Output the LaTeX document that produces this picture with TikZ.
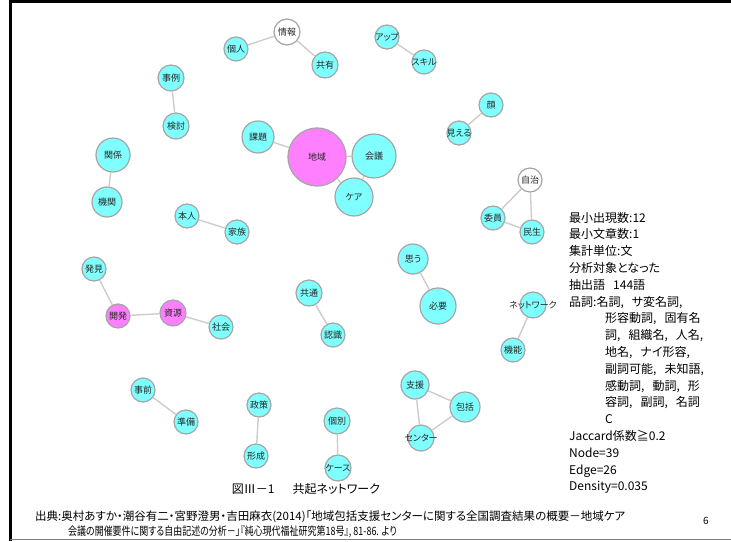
\documentclass[tikz,border=0pt]{standalone}
\usepackage{graphicx}
\usepackage{fontspec}
\setmainfont{Noto Sans CJK JP}[RawFeature=+palt]
\definecolor{nodecyan}{RGB}{128,255,255}
\definecolor{nodemag}{RGB}{255,128,255}
\definecolor{nodeborder}{RGB}{165,165,165}
\definecolor{edgegray}{RGB}{205,205,205}
\newcommand{\wordlbl}[1]{\makebox[0pt]{#1}}
\newcommand{\jcomma}{,\hspace{8pt}}
\tikzset{
  word/.style={circle, draw=nodeborder, line width=1.2pt, inner sep=0pt, minimum size=#1, text=black!85, font=\fontsize{9}{9}\selectfont},
  cyw/.style={word=#1, fill=nodecyan},
  mgw/.style={word=#1, fill=nodemag},
  whw/.style={word=#1, fill=white},
  link/.style={draw=edgegray, line width=1.4pt},
  info/.style={anchor=west, inner sep=0pt, text height=10pt, text depth=2pt, font=\fontsize{12}{12}\selectfont},
  capt/.style={anchor=west, inner sep=0pt, text height=9pt, text depth=2pt, font=\fontsize{11.5}{11.5}\selectfont},
}
\begin{document}
\begin{tikzpicture}[x=1pt,y=-1pt]
\useasboundingbox (0,0) rectangle (731,541);
\fill[white] (0,0) rectangle (731,541);
% frame
\draw[line width=2.5pt] (9,1.25) -- (731,1.25);
\draw[line width=2.5pt] (10.25,0) -- (10.25,541);
\draw[gray, line width=1.5pt] (10,539.5) -- (731,539.5);

% word nodes
\node[whw=26pt] (joho) at (287,32) {\wordlbl{情報}};
\node[cyw=24pt] (kojin) at (236,49) {\wordlbl{個人}};
\node[cyw=26pt] (kyoyu) at (325,65) {\wordlbl{共有}};
\node[cyw=24pt] (up) at (387,37) {\wordlbl{アップ}};
\node[cyw=24pt] (skill) at (424,62) {\wordlbl{スキル}};
\node[cyw=26pt] (jirei) at (171,78) {\wordlbl{事例}};
\node[cyw=26pt] (kento) at (176,126) {\wordlbl{検討}};
\node[cyw=24pt] (kao) at (491,105) {\wordlbl{顔}};
\node[cyw=24pt] (mieru) at (459,133) {\wordlbl{見える}};
\node[cyw=32pt] (kadai) at (258,137) {\wordlbl{課題}};
\node[mgw=58pt] (chiiki) at (317,157) {\wordlbl{地域}};
\node[cyw=44pt] (kaigi) at (374,156) {\wordlbl{会議}};
\node[cyw=38pt] (care) at (354,197) {\wordlbl{ケア}};
\node[cyw=34pt] (kankei) at (113,155) {\wordlbl{関係}};
\node[cyw=30pt] (kikan) at (107,202) {\wordlbl{機関}};
\node[whw=24pt] (jichi) at (530,180) {\wordlbl{自治}};
\node[cyw=24pt] (iin) at (493,218) {\wordlbl{委員}};
\node[cyw=24pt] (minsei) at (532,232) {\wordlbl{民生}};
\node[cyw=24pt] (honnin) at (187,216) {\wordlbl{本人}};
\node[cyw=24pt] (kazoku) at (237,232) {\wordlbl{家族}};
\node[cyw=30pt] (omou) at (413,259) {\wordlbl{思う}};
\node[cyw=36pt] (hitsuyo) at (438,306) {\wordlbl{必要}};
\node[cyw=24pt] (hakken) at (94,269) {\wordlbl{発見}};
\node[mgw=24pt] (kaihatsu) at (118,316) {\wordlbl{開発}};
\node[mgw=26pt] (shigen) at (173,313) {\wordlbl{資源}};
\node[cyw=24pt] (shakai) at (221,327) {\wordlbl{社会}};
\node[cyw=26pt] (kyotsu) at (309,293) {\wordlbl{共通}};
\node[cyw=24pt] (ninshiki) at (333,335) {\wordlbl{認識}};
\node[cyw=26pt] (network) at (533,305) {\wordlbl{ネットワーク}};
\node[cyw=24pt] (kino) at (513,350) {\wordlbl{機能}};
\node[cyw=28pt] (shien) at (415,385) {\wordlbl{支援}};
\node[cyw=30pt] (hokatsu) at (465,407) {\wordlbl{包括}};
\node[cyw=26pt] (sentaa) at (421,438) {\wordlbl{センター}};
\node[cyw=24pt] (jizen) at (143,390) {\wordlbl{事前}};
\node[cyw=24pt] (junbi) at (186,422) {\wordlbl{準備}};
\node[cyw=24pt] (seisaku) at (259,405) {\wordlbl{政策}};
\node[cyw=24pt] (keisei) at (256,456) {\wordlbl{形成}};
\node[cyw=26pt] (kobetsu) at (337,421) {\wordlbl{個別}};
\node[cyw=26pt] (kesu) at (338,468) {\wordlbl{ケース}};

% co-occurrence links
\draw[link] (joho) -- (kojin);
\draw[link] (joho) -- (kyoyu);
\draw[link] (up) -- (skill);
\draw[link] (jirei) -- (kento);
\draw[link] (kao) -- (mieru);
\draw[link] (kadai) -- (chiiki);
\draw[link] (chiiki) -- (kaigi);
\draw[link] (chiiki) -- (care);
\draw[link] (kaigi) -- (care);
\draw[link] (kankei) -- (kikan);
\draw[link] (jichi) -- (iin);
\draw[link] (jichi) -- (minsei);
\draw[link] (iin) -- (minsei);
\draw[link] (honnin) -- (kazoku);
\draw[link] (omou) -- (hitsuyo);
\draw[link] (hakken) -- (kaihatsu);
\draw[link] (kaihatsu) -- (shigen);
\draw[link] (shigen) -- (shakai);
\draw[link] (kyotsu) -- (ninshiki);
\draw[link] (network) -- (kino);
\draw[link] (shien) -- (hokatsu);
\draw[link] (shien) -- (sentaa);
\draw[link] (hokatsu) -- (sentaa);
\draw[link] (jizen) -- (junbi);
\draw[link] (seisaku) -- (keisei);
\draw[link] (kobetsu) -- (kesu);

% info block
\node[info] (i1) at (569,218.0) {最小出現数:12};
\node[info] (i2) at (569,234.8) {最小文章数:1};
\node[info] (i3) at (569,251.6) {集計単位:文};
\node[info] (i4) at (569,268.4) {分析対象となった};
\node[info] (i5) at (569,285.2) {抽出語\hspace{8pt}144語};
\node[info] (i6) at (569,302.0) {品詞:名詞\jcomma サ変名詞,};
\node[info] (i7) at (605,318.8) {形容動詞\jcomma 固有名};
\node[info] (i8) at (605,335.6) {詞\jcomma 組織名\jcomma 人名,};
\node[info] (i9) at (605,352.4) {地名\jcomma ナイ形容,};
\node[info] (i10) at (605,369.2) {副詞可能\jcomma 未知語,};
\node[info] (i11) at (605,386.0) {感動詞\jcomma 動詞\jcomma 形};
\node[info] (i12) at (605,402.8) {容詞\jcomma 副詞\jcomma 名詞};
\node[info] (i13) at (605,419.6) {C};
\node[info] (i14) at (569,436.4) {Jaccard係数≧0.2};
\node[info] (i15) at (569,453.2) {Node=39};
\node[info] (i16) at (569,470.0) {Edge=26};
\node[info] (i17) at (569,486.8) {Density=0.035};

% title and source
\node[inner sep=0pt, font=\fontsize{12}{12}\selectfont] (title) at (306,489) {図Ⅲ－1\hspace{1.5em}共起ネットワーク};
\node[capt] (src1) at (35,517) {出典:奥村あすか・潮谷有二・宮野澄男・吉田麻衣(2014)「地域包括支援センターに関する全国調査結果の概要－地域ケア};
\node[capt] (src2) at (68,532) {\scalebox{0.78}[1]{会議の開催要件に関する自由記述の分析－」『純心現代福祉研究第18号』, 81-86. より}};
\node[inner sep=0pt, font=\fontsize{10}{10}\selectfont] (page) at (706,521) {6};
\end{tikzpicture}
\end{document}
